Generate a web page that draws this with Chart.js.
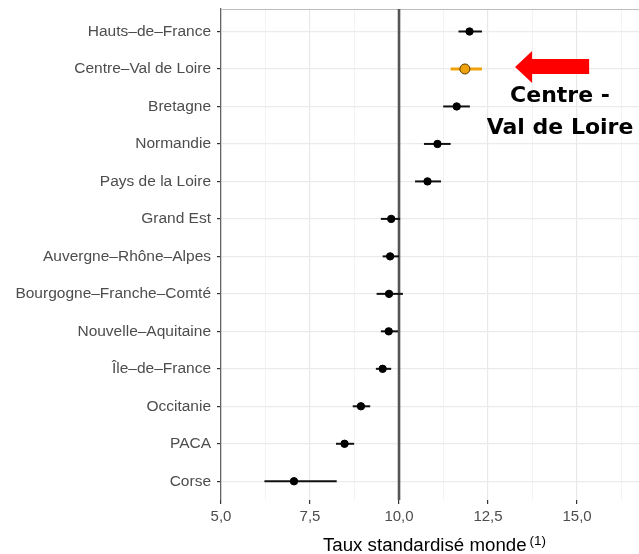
<!DOCTYPE html>
<html>
<head>
<meta charset="utf-8">
<script src="https://cdn.jsdelivr.net/npm/chart.js@4.4.0/dist/chart.umd.min.js"></script>
<style>
html,body{margin:0;padding:0;background:#fff;}
canvas{display:block;}
</style>
</head>
<body>
<canvas id="c" width="639" height="554"></canvas>
<script>
const categories = ["Hauts–de–France","Centre–Val de Loire","Bretagne","Normandie","Pays de la Loire","Grand Est","Auvergne–Rhône–Alpes","Bourgogne–Franche–Comté","Nouvelle–Aquitaine","Île–de–France","Occitanie","PACA","Corse"];
const estimate = [11.98, 11.85, 11.62, 11.08, 10.80, 9.78, 9.75, 9.72, 9.71, 9.54, 8.93, 8.47, 7.05];
const lower    = [11.67, 11.45, 11.24, 10.70, 10.45, 9.49, 9.54, 9.37, 9.49, 9.35, 8.70, 8.23, 6.22];
const upper    = [12.33, 12.33, 11.99, 11.45, 11.18, 10.03, 10.00, 10.11, 9.97, 9.78, 9.19, 8.74, 8.25];
const xTickValues = [5, 6.25, 7.5, 8.75, 10, 11.25, 12.5, 13.75, 15, 16.25];
const referenceValue = 10;
const highlightIndex = 1;
const annotationText = ["Centre -", "Val de Loire"];
const axisTitle = "Taux standardisé monde";
const axisTitleNote = "(1)";

const isMajor = v => Math.abs(v / 2.5 - Math.round(v / 2.5)) < 1e-6;
const FONT = '"Liberation Sans", Arial, Helvetica, sans-serif';

const errorBars = {
  id: 'errorBars',
  beforeDatasetsDraw(chart) {
    const {ctx, scales:{x, y}, chartArea} = chart;
    ctx.save();
    ctx.strokeStyle = '#bdbdbd';
    ctx.lineWidth = 1;
    ctx.beginPath();
    ctx.moveTo(chartArea.left, chartArea.top + 0.5);
    ctx.lineTo(chartArea.right, chartArea.top + 0.5);
    ctx.stroke();
    const rx = x.getPixelForValue(referenceValue);
    ctx.strokeStyle = '#555555';
    ctx.lineWidth = 2.6;
    ctx.beginPath();
    ctx.moveTo(rx, chartArea.top);
    ctx.lineTo(rx, chartArea.bottom);
    ctx.stroke();
    for (let i = 0; i < categories.length; i++) {
      const py = y.getPixelForValue(i);
      ctx.strokeStyle = i === highlightIndex ? '#F0A20A' : '#111111';
      ctx.lineWidth = i === highlightIndex ? 3 : 2;
      ctx.beginPath();
      ctx.moveTo(x.getPixelForValue(lower[i]), py);
      ctx.lineTo(x.getPixelForValue(upper[i]), py);
      ctx.stroke();
    }
    ctx.restore();
  }
};

const annotation = {
  id: 'annotation',
  afterDatasetsDraw(chart) {
    const {ctx, scales:{x, y}, chartArea} = chart;
    ctx.save();
    const py = y.getPixelForValue(highlightIndex) - 2;
    const tip = x.getPixelForValue(13.26);
    const headBase = tip + 17;
    const tail = x.getPixelForValue(15.34);
    ctx.fillStyle = '#FF0000';
    ctx.beginPath();
    ctx.moveTo(tip, py);
    ctx.lineTo(headBase, py - 16);
    ctx.lineTo(headBase, py - 8);
    ctx.lineTo(tail, py - 8);
    ctx.lineTo(tail, py + 7);
    ctx.lineTo(headBase, py + 7);
    ctx.lineTo(headBase, py + 16);
    ctx.closePath();
    ctx.fill();
    ctx.fillStyle = '#000000';
    ctx.font = 'bold 22px "DejaVu Sans"';
    ctx.textAlign = 'center';
    ctx.textBaseline = 'middle';
    const cx = 560;
    ctx.fillText(annotationText[0], cx, py + 29);
    ctx.fillText(annotationText[1], cx, py + 61);

    ctx.font = '18.7px ' + FONT;
    const w1 = ctx.measureText(axisTitle).width;
    ctx.font = '13.5px ' + FONT;
    const w2 = ctx.measureText(axisTitleNote).width;
    const total = w1 + w2 + 2;
    const startX = (chartArea.left + chartArea.right) / 2 - total / 2 + 4;
    ctx.textAlign = 'left';
    ctx.textBaseline = 'alphabetic';
    ctx.font = '18.7px ' + FONT;
    ctx.fillText(axisTitle, startX, 551);
    ctx.font = '13.5px ' + FONT;
    ctx.fillText(axisTitleNote, startX + w1 + 3, 545);
    ctx.restore();
  }
};

new Chart(document.getElementById('c'), {
  type: 'scatter',
  data: {
    datasets: [{
      data: estimate.map((v, i) => ({x: v, y: i})),
      pointRadius: ctx => ctx.dataIndex === highlightIndex ? 5 : 3.7,
      pointHoverRadius: ctx => ctx.dataIndex === highlightIndex ? 5 : 3.7,
      pointBackgroundColor: ctx => ctx.dataIndex === highlightIndex ? '#F0A20A' : '#000000',
      pointBorderColor: ctx => ctx.dataIndex === highlightIndex ? '#5a3d00' : '#000000',
      pointBorderWidth: 1
    }]
  },
  options: {
    responsive: false,
    animation: false,
    layout: {autoPadding: false, padding: {top: 9, right: 0, left: 0, bottom: 0}},
    plugins: {legend: {display: false}, tooltip: {enabled: false}},
    scales: {
      x: {
        type: 'linear',
        min: 5,
        max: 16.74,
        afterBuildTicks: s => { s.ticks = xTickValues.map(v => ({value: v})); },
        afterFit: s => { s.height = 54; s.paddingLeft = 0; s.paddingRight = 0; },
        border: {display: false},
        grid: {
          color: c => (c.tick && isMajor(c.tick.value)) ? '#e8e8e8' : '#f3f3f3',
          lineWidth: c => (c.tick && isMajor(c.tick.value)) ? 1.2 : 1,
          tickColor: c => (c.tick && isMajor(c.tick.value)) ? '#333333' : 'rgba(0,0,0,0)',
          tickLength: 4
        },
        ticks: {
          autoSkip: false,
          maxRotation: 0,
          padding: 4,
          color: '#4d4d4d',
          font: {family: FONT, size: 15},
          callback: v => isMajor(v) ? v.toFixed(1).replace('.', ',') : ''
        },
        title: {display: false}
      },
      y: {
        type: 'linear',
        reverse: true,
        min: -0.6,
        max: 12.5,
        afterBuildTicks: s => { s.ticks = categories.map((_, i) => ({value: i})); },
        afterFit: s => { s.width = 221; s.paddingTop = 0; s.paddingBottom = 0; },
        border: {display: true, color: '#666666', width: 1.3},
        grid: {
          color: '#ebebeb',
          lineWidth: 1.2,
          tickColor: '#333333',
          tickLength: 4
        },
        ticks: {
          autoSkip: false,
          padding: 6,
          color: '#4d4d4d',
          font: {family: FONT, size: 15.5},
          callback: v => categories[v] !== undefined ? categories[v] : ''
        }
      }
    }
  },
  plugins: [errorBars, annotation]
});
</script>
</body>
</html>
